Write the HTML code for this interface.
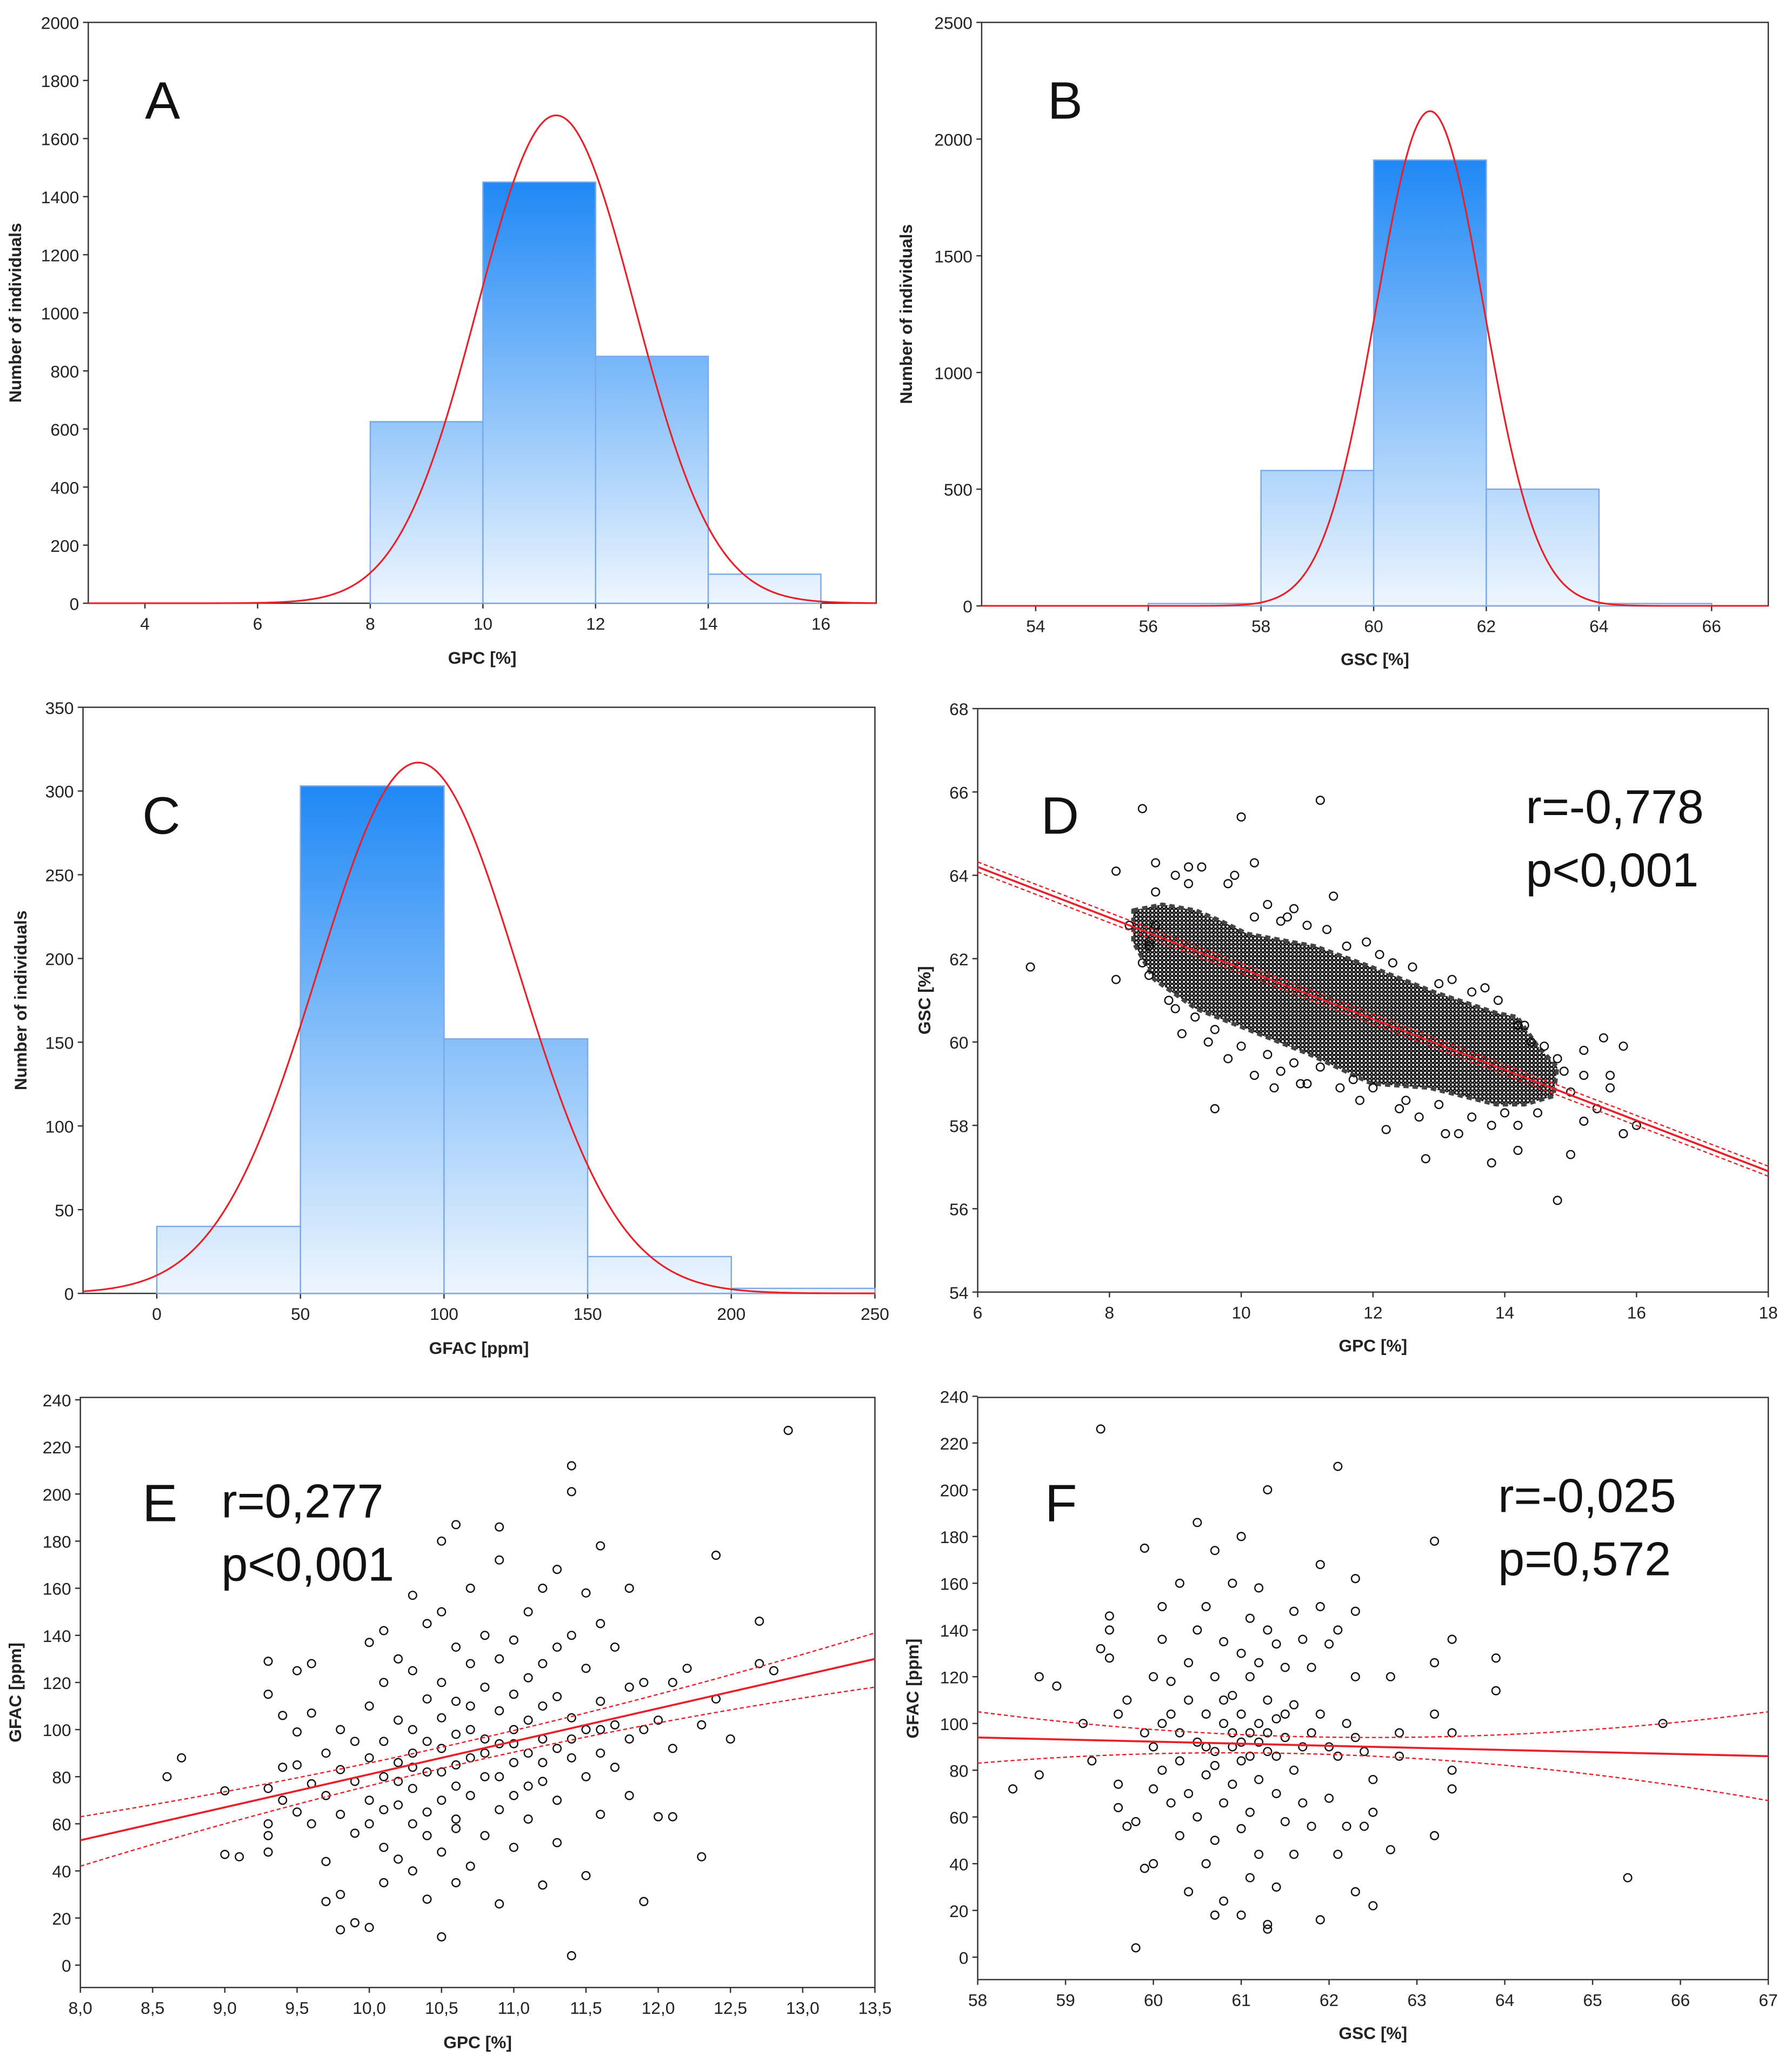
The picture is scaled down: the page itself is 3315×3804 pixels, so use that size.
<!DOCTYPE html>
<html><head><meta charset="utf-8"><style>
html,body{margin:0;padding:0;background:#fff}
svg{display:block}
text{font-family:"Liberation Sans",sans-serif}
</style></head><body>
<svg id="fig" xmlns="http://www.w3.org/2000/svg" width="3315" height="3804" viewBox="0 0 1360 1561" preserveAspectRatio="none">
<defs>
<pattern id="dots" width="3" height="3" patternUnits="userSpaceOnUse"><rect width="3" height="3" fill="#fff"/><circle cx="1.5" cy="1.5" r="1.3" fill="none" stroke="#111" stroke-width="1"/></pattern>
</defs>
</svg>
<script>
// ---- data ----
const histA_edges=[8,10,12,14,16];
const histA_counts=[625,1450,850,100];
const histB_edges=[56,58,60,62,64,66];
const histB_counts=[10,580,1910,500,10];
const histC_edges=[0,50,100,150,200,250];
const histC_counts=[40,303,152,22,3];
const curveA=[11.3,1.4,1680];
const curveB=[61.0,0.95,2120];
const curveC=[91,35,317];
const ticksA_x=[4,6,8,10,12,14,16];
const ticksA_y=[0,200,400,600,800,1000,1200,1400,1600,1800,2000];
const ticksB_x=[54,56,58,60,62,64,66];
const ticksB_y=[0,500,1000,1500,2000,2500];
const ticksC_x=[0,50,100,150,200,250];
const ticksC_y=[0,50,100,150,200,250,300,350];
const ticksD_x=[6,8,10,12,14,16,18];
const ticksD_y=[54,56,58,60,62,64,66,68];
const ticksE_x=[8,8.5,9,9.5,10,10.5,11,11.5,12,12.5,13,13.5];
const ticksE_y=[0,20,40,60,80,100,120,140,160,180,200,220,240];
const ticksF_x=[58,59,60,61,62,63,64,65,66,67];
const ticksF_y=[0,20,40,60,80,100,120,140,160,180,200,220,240];
const coreD=[[8.36,63.16],[8.8,63.3],[9.31,63.16],[9.7,62.9],[10.09,62.6],[11.12,62.3],[11.98,61.8],[12.93,61.2],[13.87,60.7],[14.19,60.6],[14.5,59.9],[14.8,59.4],[14.74,58.7],[14.3,58.5],[13.87,58.5],[12.85,58.9],[11.98,59.0],[11.04,59.7],[9.94,60.4],[9.31,60.8],[8.68,61.5],[8.36,62.4]];
const pointsD=[[6.8,61.8],[8.5,65.6],[11.2,65.8],[10,65.4],[10.2,64.3],[9.6,58.4],[12.8,57.2],[13.8,57.1],[14.8,56.2],[14.2,57.4],[15,57.3],[15.8,57.8],[16,58.0],[15.8,59.9],[15.5,60.1],[8.1,64.1],[8.1,61.5],[13.7,61.3],[11.4,63.5],[10.5,58.9],[8.3,62.8],[8.6,62.3],[15.6,58.9],[15.2,58.1],[14.2,60.4],[9.2,64.2],[12.2,57.9],[13.1,57.8],[10.9,59.0],[11.8,58.6],
[8.7,64.3],[9.0,64.0],[9.2,63.8],[9.4,64.2],[8.7,63.6],[9.8,63.8],[10.2,63.0],[10.6,62.9],[10.8,63.2],[11.3,62.7],[11.6,62.3],[12.1,62.1],[12.6,61.8],[13.0,61.4],[13.5,61.2],[13.9,61.0],[14.4,60.0],[14.8,59.6],[15.2,59.2],[15.0,58.8],[14.5,58.3],[14.0,58.3],[13.5,58.2],[13.0,58.5],[12.5,58.6],[12.0,58.9],[11.5,58.9],[11.2,59.4],[10.8,59.5],[10.4,59.7],[10.0,59.9],[9.6,60.3],[9.3,60.6],[8.9,61.0],[8.6,61.6],[8.6,62.4],[8.7,62.8],[9.5,60.0],[10.2,59.2],[11.0,59.0],[12.7,58.2],[13.3,57.8],[14.2,58.0],[9.1,60.2],[15.4,58.4],[15.6,59.2],[15.2,59.8],[14.3,60.4],[12.3,61.9],[10.7,63.0],[9.9,64.0],[10.4,63.3],[11.0,62.8],[11.9,62.4],[13.2,61.5],[14.6,59.9],[14.9,59.3],[13.8,58.0],[12.4,58.4],[11.7,59.1],[10.6,59.3],[9.8,59.6],[9.0,60.8],[8.5,61.9]];
const regD=[64.2,56.9];
const pointsE=[[8.6,80],[8.7,88],[9.0,74],[9.0,47],[9.1,46],[9.3,129],[9.3,115],[9.3,75],[9.3,60],[9.3,55],[9.3,48],[9.4,106],[9.4,84],[9.4,70],[9.5,125],[9.5,99],[9.5,85],[9.5,65],[9.6,128],[9.6,107],[9.6,77],[9.6,60],[9.7,90],[9.7,72],[9.7,44],[9.7,27],[9.8,100],[9.8,83],[9.8,64],[9.8,30],[9.8,15],[9.9,95],[9.9,78],[9.9,56],[9.9,18],[10.0,137],[10.0,110],[10.0,88],[10.0,70],[10.0,60],[10.0,16],[10.1,142],[10.1,120],[10.1,95],[10.1,80],[10.1,50],[10.1,35],[10.2,130],[10.2,104],[10.2,86],[10.2,68],[10.2,45],[10.3,157],[10.3,125],[10.3,100],[10.3,90],[10.3,75],[10.3,60],[10.3,40],[10.4,145],[10.4,113],[10.4,95],[10.4,82],[10.4,55],[10.4,28],[10.5,180],[10.5,150],[10.5,120],[10.5,105],[10.5,92],[10.5,70],[10.5,48],[10.5,12],[10.6,187],[10.6,135],[10.6,112],[10.6,98],[10.6,85],[10.6,62],[10.6,35],[10.7,160],[10.7,128],[10.7,100],[10.7,88],[10.7,72],[10.7,42],[10.8,140],[10.8,118],[10.8,96],[10.8,80],[10.8,55],[10.9,186],[10.9,172],[10.9,130],[10.9,108],[10.9,94],[10.9,66],[10.9,26],[11.0,138],[11.0,115],[11.0,100],[11.0,86],[11.0,72],[11.0,50],[11.1,150],[11.1,122],[11.1,104],[11.1,90],[11.1,62],[11.2,160],[11.2,128],[11.2,110],[11.2,96],[11.2,78],[11.2,34],[11.3,168],[11.3,135],[11.3,114],[11.3,92],[11.3,70],[11.3,52],[11.4,212],[11.4,201],[11.4,140],[11.4,105],[11.4,88],[11.4,4],[11.5,158],[11.5,126],[11.5,100],[11.5,80],[11.5,38],[11.6,178],[11.6,145],[11.6,112],[11.6,90],[11.6,64],[11.7,135],[11.7,102],[11.7,84],[11.8,160],[11.8,118],[11.8,96],[11.8,72],[11.9,120],[11.9,100],[11.9,27],[12.0,104],[12.0,63],[12.1,120],[12.1,92],[12.1,63],[12.2,126],[12.3,102],[12.3,46],[12.4,174],[12.4,113],[12.5,96],[12.7,146],[12.7,128],[12.8,125],[12.9,227],[10.2,78],[10.4,65],[10.6,76],[10.8,90],[11.0,94],[10.3,84],[10.7,110],[11.2,86],[10.5,82],[10.9,80],[11.4,96],[10.1,66],[10.6,58],[11.6,100],[11.1,76]];
const regE=[53,130];
const ciE_x=[8,10.75,13.5], ciE_lo=[42,87,118], ciE_hi=[63,96,141];
const pointsF=[[58.4,72],[58.7,120],[58.7,78],[58.9,116],[59.2,100],[59.3,84],[59.4,132],[59.5,146],[59.5,140],[59.5,128],[59.4,226],[59.6,104],[59.6,74],[59.6,64],[59.7,110],[59.7,56],[59.8,4],[59.8,58],[59.9,175],[59.9,96],[59.9,38],[60.0,120],[60.0,90],[60.0,72],[60.0,40],[60.1,150],[60.1,136],[60.1,100],[60.1,80],[60.2,118],[60.2,104],[60.2,66],[60.3,160],[60.3,96],[60.3,84],[60.3,52],[60.4,126],[60.4,110],[60.4,70],[60.4,28],[60.5,186],[60.5,140],[60.5,92],[60.5,60],[60.6,150],[60.6,104],[60.6,78],[60.6,40],[60.7,174],[60.7,120],[60.7,88],[60.7,50],[60.7,18],[60.8,135],[60.8,100],[60.8,66],[60.8,24],[60.9,160],[60.9,112],[60.9,90],[60.9,74],[61.0,180],[61.0,130],[61.0,104],[61.0,84],[61.0,55],[61.0,18],[61.1,145],[61.1,120],[61.1,96],[61.1,62],[61.1,34],[61.2,158],[61.2,126],[61.2,92],[61.2,76],[61.2,44],[61.3,200],[61.3,140],[61.3,110],[61.3,88],[61.3,14],[61.3,12],[61.4,134],[61.4,102],[61.4,70],[61.4,30],[61.5,124],[61.5,94],[61.5,58],[61.6,148],[61.6,108],[61.6,80],[61.6,44],[61.7,136],[61.7,90],[61.7,66],[61.8,124],[61.8,96],[61.8,56],[61.9,168],[61.9,150],[61.9,104],[61.9,16],[62.0,134],[62.0,90],[62.0,68],[62.1,210],[62.1,140],[62.1,86],[62.1,44],[62.2,100],[62.2,56],[62.3,162],[62.3,148],[62.3,120],[62.3,94],[62.3,28],[62.4,88],[62.4,56],[62.5,76],[62.5,22],[62.5,62],[62.7,120],[62.7,46],[62.8,96],[62.8,86],[63.2,178],[63.2,126],[63.2,104],[63.2,52],[63.4,136],[63.4,96],[63.4,72],[63.4,80],[63.9,128],[63.9,114],[65.4,34],[65.8,100],[60.9,96],[61.1,86],[61.2,100],[60.7,82],[61.0,92],[61.3,96],[60.6,90],[61.4,86],[61.5,104],[60.8,110]];
const regF=[94,86];
const ciF_x=[58,62.5,67], ciF_lo=[83,86,67], ciF_hi=[105,94,105];

// ---- helpers ----
const NS="http://www.w3.org/2000/svg";
const svg=document.getElementById('fig');
function el(tag,attrs,parent){const e=document.createElementNS(NS,tag);for(const k in attrs)e.setAttribute(k,attrs[k]);(parent||svg).appendChild(e);return e;}
function txt(s,attrs,parent){const e=el('text',attrs,parent);e.textContent=s;return e;}

function panel(c){
  const g=el('g',{});
  
  
  const sx=v=>c.x0+(v-c.xmin)/(c.xmax-c.xmin)*(c.x1-c.x0);
  const sy=v=>c.y1-(v-c.ymin)/(c.ymax-c.ymin)*(c.y1-c.y0);
  const fr=el('rect',{x:c.x0,y:c.y0,width:c.x1-c.x0,height:c.y1-c.y0,fill:'#fff',stroke:'#333','stroke-width':1},g);
  
  
  const xt=el('g',{},g);
  
  
  c.xticks.forEach(v=>{
    const x=sx(v);
    el('line',{x1:x,x2:x,y1:c.y1,y2:c.y1+4,stroke:'#333'},xt);
    const t=txt(c.xfmt?c.xfmt(v):String(v),{x:x,y:c.y1+20,'text-anchor':'middle','font-size':13,fill:'#222'},xt);
    
    
  });
  const yt=el('g',{},g);
  
  
  c.yticks.forEach(v=>{
    const y=sy(v);
    el('line',{x1:c.x0-4,x2:c.x0,y1:y,y2:y,stroke:'#333'},yt);
    const t=txt(String(v),{x:c.x0-7,y:y+5,'text-anchor':'end','font-size':13,fill:'#222'},yt);
    
    
  });
  const xl=txt(c.xlabel,{x:(c.x0+c.x1)/2,y:c.y1+c.xlabOff,'text-anchor':'middle','font-size':13,'font-weight':'bold',fill:'#222'},g);
  
  
  const yl=txt(c.ylabel,{x:0,y:0,'text-anchor':'middle','font-size':13,'font-weight':'bold',fill:'#222',transform:`translate(${c.ylabX},${(c.y0+c.y1)/2}) rotate(-90)`},g);
  
  
  return {g,sx,sy};
}

function histogram(p,c,edges,counts,curve){
  const {g,sx,sy}=p;
  const mx=Math.max(...counts);
  const gid='grad'+c.id;
  const lg=el('linearGradient',{id:gid,gradientUnits:'userSpaceOnUse',x1:0,x2:0,y1:sy(mx),y2:sy(0)},svg.querySelector('defs'));
  el('stop',{offset:'0','stop-color':'#1f88f5'},lg);
  el('stop',{offset:'1','stop-color':'#eef6fe'},lg);
  counts.forEach((n,i)=>{
    const r=el('rect',{x:sx(edges[i]),y:sy(n),width:sx(edges[i+1])-sx(edges[i]),height:sy(0)-sy(n),fill:`url(#${gid})`,stroke:'#7aa8e8','stroke-width':1},g);
    
    
  });
  const [mu,sd,pk]=curve;let d='';
  for(let i=0;i<=300;i++){const x=c.xmin+(c.xmax-c.xmin)*i/300;const y=pk*Math.exp(-((x-mu)**2)/(2*sd*sd));d+=(i?'L':'M')+sx(x).toFixed(2)+','+sy(y).toFixed(2);}
  const pth=el('path',{d,fill:'none',stroke:'#e8202a','stroke-width':1.3},g);
  
  
}

function scatter(p,c,pts){
  const {g,sx,sy}=p;
  pts.forEach(q=>{
    const ci=el('circle',{cx:sx(q[0]),cy:sy(q[1]),r:3,fill:'none',stroke:'#111','stroke-width':1},g);
    
    
  });
}
function regLine(p,c,vals,dash,name){
  const {g,sx,sy}=p;
  const l=el('line',{x1:sx(c.xmin),y1:sy(vals[0]),x2:sx(c.xmax),y2:sy(vals[1]),stroke:'#e8202a','stroke-width':dash?1:1.5,'stroke-dasharray':dash?'3,2':'none'},g);
  
  
}
function ciCurve(p,c,xs,ys,name){
  const {g,sx,sy}=p;
  const L=x=>{let s=0;for(let i=0;i<3;i++){let t=ys[i];for(let j=0;j<3;j++)if(j!==i)t*=(x-xs[j])/(xs[i]-xs[j]);s+=t;}return s;};
  let d='';
  for(let i=0;i<=100;i++){const x=c.xmin+(c.xmax-c.xmin)*i/100;d+=(i?'L':'M')+sx(x).toFixed(2)+','+sy(L(x)).toFixed(2);}
  const pth=el('path',{d,fill:'none',stroke:'#e8202a','stroke-width':1,'stroke-dasharray':'3,2'},g);
  
  
}
function label(p,s,x,y,size,name){
  const t=txt(s,{x,y,'font-size':size,fill:'#111'},p.g);
  
  
}
const comma=v=>v.toFixed(1).replace('.',',');

// A
const cA={id:'a',x0:67,x1:665,y0:17,y1:458,xmin:4-43/42.75,xmax:16+42/42.75,ymin:0,ymax:2000,xticks:ticksA_x,yticks:ticksA_y,xlabel:'GPC [%]',ylabel:'Number of individuals',xlabOff:46,ylabX:16};
const pA=panel(cA);histogram(pA,cA,histA_edges,histA_counts,curveA);label(pA,'A',110,90,40,'panel-label');
// B
const cB={id:'b',x0:745,x1:1342,y0:17,y1:460,xmin:54-41/42.75,xmax:66+43/42.75,ymin:0,ymax:2500,xticks:ticksB_x,yticks:ticksB_y,xlabel:'GSC [%]',ylabel:'Number of individuals',xlabOff:45,ylabX:692};
const pB=panel(cB);histogram(pB,cB,histB_edges,histB_counts,curveB);label(pB,'B',795,90,40,'panel-label');
// C
const cC={id:'c',x0:63,x1:664,y0:537,y1:982,xmin:-56/2.18,xmax:250,ymin:0,ymax:350,xticks:ticksC_x,yticks:ticksC_y,xlabel:'GFAC [ppm]',ylabel:'Number of individuals',xlabOff:46,ylabX:20};
const pC=panel(cC);histogram(pC,cC,histC_edges,histC_counts,curveC);label(pC,'C',108,633,40,'panel-label');
// D
const cD={id:'d',x0:742,x1:1342,y0:538,y1:981,xmin:6,xmax:18,ymin:54,ymax:68,xticks:ticksD_x,yticks:ticksD_y,xlabel:'GPC [%]',ylabel:'GSC [%]',xlabOff:45,ylabX:706};
const pD=panel(cD);
const core=el('polygon',{points:coreD.map(q=>pD.sx(q[0])+','+pD.sy(q[1])).join(' '),fill:'url(#dots)',stroke:'#444','stroke-width':3,'stroke-linejoin':'round','stroke-dasharray':'4,3'},pD.g);


scatter(pD,cD,pointsD);
regLine(pD,cD,regD,false,'regression-line');
regLine(pD,cD,[regD[0]+0.12,regD[1]+0.12],true,'ci-upper');
regLine(pD,cD,[regD[0]-0.12,regD[1]-0.12],true,'ci-lower');
label(pD,'D',790,633,40,'panel-label');label(pD,'r=-0,778',1158,625,36,'r-value');label(pD,'p<0,001',1158,673,36,'p-value');
// E
const cE={id:'e',x0:61,x1:664,y0:1061,y1:1509,xmin:8,xmax:13.5,ymin:-9.5,ymax:241,xticks:ticksE_x,yticks:ticksE_y,xfmt:comma,xlabel:'GPC [%]',ylabel:'GFAC [ppm]',xlabOff:46,ylabX:16};
const pE=panel(cE);scatter(pE,cE,pointsE);
regLine(pE,cE,regE,false,'regression-line');ciCurve(pE,cE,ciE_x,ciE_lo,'ci-lower');ciCurve(pE,cE,ciE_x,ciE_hi,'ci-upper');
label(pE,'E',108,1155,40,'panel-label');label(pE,'r=0,277',168,1152,36,'r-value');label(pE,'p<0,001',168,1200,36,'p-value');
// F
const cF={id:'f',x0:742,x1:1342,y0:1061,y1:1503,xmin:58,xmax:67,ymin:-9.6,ymax:239.5,xticks:ticksF_x,yticks:ticksF_y,xlabel:'GSC [%]',ylabel:'GFAC [ppm]',xlabOff:45,ylabX:697};
const pF=panel(cF);scatter(pF,cF,pointsF);
regLine(pF,cF,regF,false,'regression-line');ciCurve(pF,cF,ciF_x,ciF_lo,'ci-lower');ciCurve(pF,cF,ciF_x,ciF_hi,'ci-upper');
label(pF,'F',793,1155,40,'panel-label');label(pF,'r=-0,025',1137,1148,36,'r-value');label(pF,'p=0,572',1137,1196,36,'p-value');
</script>
</body></html>
